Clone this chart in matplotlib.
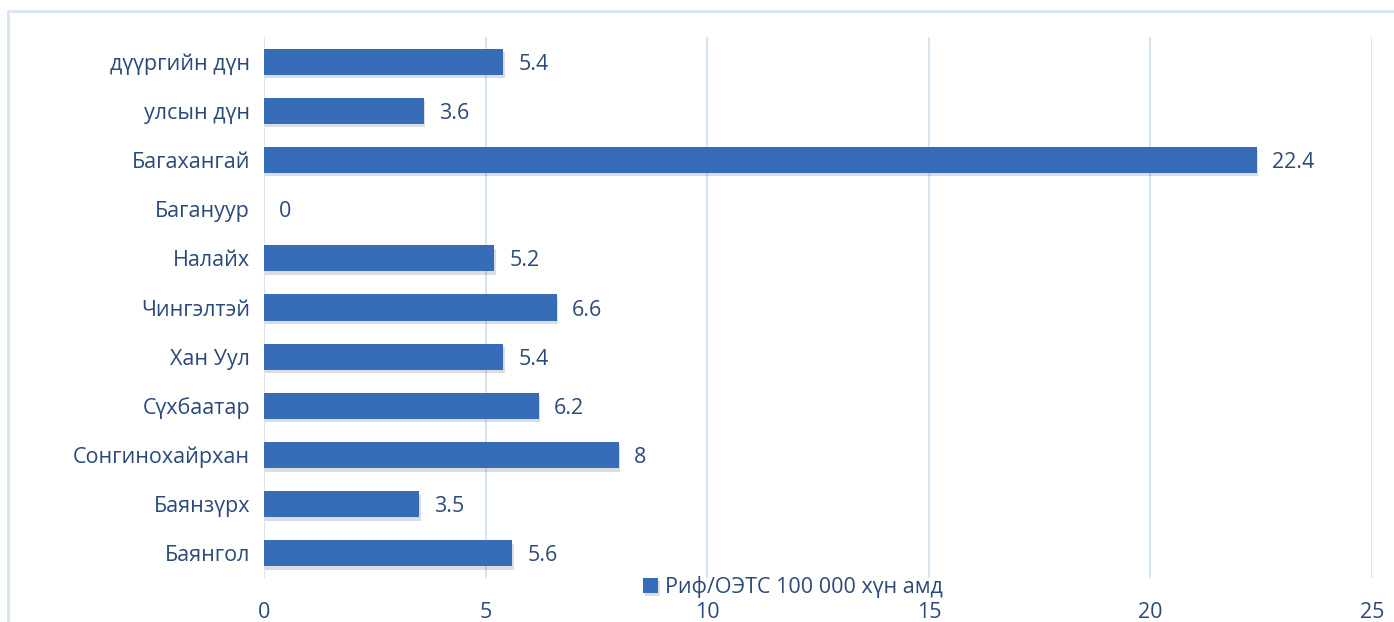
import matplotlib.pyplot as plt
import matplotlib.patheffects as pe
from matplotlib.patches import Rectangle

# data (bottom to top)
districts = ["Баянгол", "Баянзүрх", "Сонгинохайрхан", "Сүхбаатар", "Хан Уул",
             "Чингэлтэй", "Налайх", "Багануур", "Багахангай", "улсын дүн", "дүүргийн дүн"]
rates = [5.6, 3.5, 8, 6.2, 5.4, 6.6, 5.2, 0, 22.4, 3.6, 5.4]
rate_labels = ["5.6", "3.5", "8", "6.2", "5.4", "6.6", "5.2", "0", "22.4", "3.6", "5.4"]
series_name = "Риф/ОЭТС 100 000 хүн амд"
x_ticks = [0, 5, 10, 15, 20, 25]

text_color = "#2B4A7A"
bar_color = "#376CB8"
grid_color = "#D9E4F2"
fs = 15.5

plt.rcParams['font.family'] = ['Open Sans', 'DejaVu Sans']

W, H = 1394, 622
fig = plt.figure(figsize=(W / 100, H / 100), dpi=100)

# outer chart frame (cut off at right and bottom like the reference)
fig.patches.append(Rectangle((8 / W, -0.1), 1.2, 1 - 11 / H + 0.1, transform=fig.transFigure,
                             fill=False, edgecolor=grid_color, lw=2))

ax = fig.add_axes([264 / W, 1 - 578 / H, (1372 - 264) / W, (578 - 37) / H])

bars = ax.barh(range(len(districts)), rates, height=0.53, color=bar_color, zorder=3,
               label=series_name)
for b in bars:
    b.set_path_effects([pe.SimplePatchShadow(offset=(1, -2.5), alpha=0.15), pe.Normal()])

for i, (v, lab) in enumerate(zip(rates, rate_labels)):
    ax.annotate(lab, (v, i), xytext=(11, 0), textcoords="offset points",
                va="center_baseline", ha="left", fontsize=fs, color=text_color)

ax.set_xlim(0, 25)
ax.set_ylim(-0.5, len(districts) - 0.5)
ax.set_xticks(x_ticks)
ax.set_yticks(range(len(districts)))
ax.set_yticklabels(districts)
ax.tick_params(axis="both", length=0, labelsize=fs, colors=text_color)
ax.tick_params(axis="x", pad=17)
ax.tick_params(axis="y", pad=10)
ax.grid(axis="x", color=grid_color, lw=1.5, zorder=0)
for s in ax.spines.values():
    s.set_visible(False)

fig.legend(loc="center", bbox_to_anchor=(793 / W, 1 - 587 / H), frameon=False,
           fontsize=fs, labelcolor=text_color, handlelength=0.7, handleheight=0.7,
           handletextpad=0.3, borderpad=0)

fig.savefig("out.png", dpi=100)
